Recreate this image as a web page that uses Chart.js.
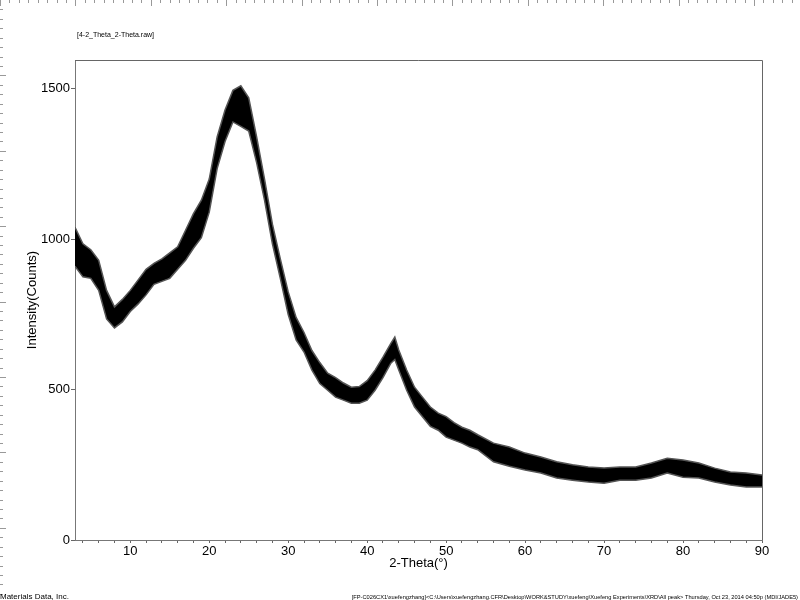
<!DOCTYPE html>
<html>
<head>
<meta charset="utf-8">
<title>4-2 Theta 2-Theta</title>
<script src="https://cdn.jsdelivr.net/npm/chart.js@4.4.0/dist/chart.umd.min.js"></script>
<style>
  html, body { margin: 0; padding: 0; background: #fff; }
  #wrap { width: 800px; height: 600px; }
</style>
</head>
<body>
<div id="wrap"><canvas id="xrd" width="800" height="600"></canvas></div>
<script>
const theta = [3, 4, 5, 6, 7, 8, 9, 10, 11, 12, 13, 14, 15, 16, 17, 18, 19, 20,
  21, 22, 23, 24, 25, 26, 27, 28, 29, 30, 31, 32, 33, 34, 35, 36, 37, 38, 39, 40,
  41, 42, 43, 43.5, 44, 45, 46, 47, 48, 49, 50, 51, 52, 53, 54, 56, 58, 60, 62,
  64, 66, 68, 70, 72, 74, 76, 78, 80, 82, 84, 86, 88, 90];
// borde inferior de la traza (ruido)
const intensityLow = [910, 875, 870, 830, 735, 705, 725, 760, 785, 815, 850, 860, 870, 900, 930, 970, 1005, 1090,
  1235, 1325, 1390, 1375, 1360, 1255, 1130, 985, 870, 750, 665, 625, 565, 520, 498, 475, 465, 455, 455, 465,
  498, 540, 588, 600, 565, 498, 442, 410, 378, 365, 342, 332, 322, 309, 300, 260, 245, 233, 223,
  206, 199, 193, 189, 199, 199, 206, 223, 209, 206, 193, 183, 176, 176];
// borde superior de la traza
const intensityHigh = [1040, 985, 965, 930, 830, 775, 800, 830, 865, 900, 920, 935, 955, 975, 1030, 1085, 1130, 1200,
  1340, 1430, 1495, 1510, 1470, 1340, 1200, 1050, 935, 825, 740, 690, 630, 590, 555, 540, 522, 508, 510, 530,
  565, 608, 654, 675, 632, 565, 508, 475, 442, 422, 410, 390, 375, 365, 350, 322, 309, 289, 276,
  260, 250, 243, 239, 243, 243, 256, 272, 266, 256, 239, 226, 223, 216];

const xTickLabels = [10, 20, 30, 40, 50, 60, 70, 80, 90];
const yTickLabels = [0, 500, 1000, 1500];

const headerText = '[4-2_Theta_2-Theta.raw]';
const footerLeft = 'Materials Data, Inc.';
const footerRight = '[FP-C026CX1\\xuefengzhang]<C:\\Users\\xuefengzhang.CFR\\Desktop\\WORK&STUDY\\xuefeng\\Xuefeng Experiments\\XRD\\All peak> Thursday, Oct 23, 2014 04:50p (MDI/JADE5)';

const lowPts = theta.map((t, i) => ({ x: t, y: intensityLow[i] }));
const highPts = theta.map((t, i) => ({ x: t, y: intensityHigh[i] }));

// marco, regla de la ventana y textos
const decoraciones = {
  id: 'decoraciones',
  afterDraw(chart) {
    const ctx = chart.ctx;
    const a = chart.chartArea;
    ctx.save();
    ctx.strokeStyle = '#666';
    ctx.lineWidth = 1;
    ctx.beginPath();
    ctx.moveTo(a.left, a.top + 0.5);
    ctx.lineTo(a.right + 0.5, a.top + 0.5);
    ctx.lineTo(a.right + 0.5, a.bottom);
    ctx.stroke();

    // regla
    ctx.strokeStyle = '#999';
    const paso = 75.4 / 8;
    for (let i = 0; i * paso < 800; i++) {
      const p = Math.round(i * paso) + 0.5;
      const len = i % 8 === 0 ? 6 : 3;
      ctx.beginPath();
      ctx.moveTo(p, 0);
      ctx.lineTo(p, len);
      ctx.stroke();
    }
    for (let i = 1; i * paso < 600; i++) {
      const p = Math.round(i * paso) + 0.5;
      const len = i % 8 === 0 ? 6 : 3;
      ctx.beginPath();
      ctx.moveTo(0, p);
      ctx.lineTo(len, p);
      ctx.stroke();
    }

    ctx.fillStyle = '#000';
    ctx.textBaseline = 'middle';
    ctx.textAlign = 'left';
    ctx.font = '7px "Liberation Sans", Arial, sans-serif';
    ctx.fillText(headerText, 77, 35);

    ctx.font = '8px "Liberation Sans", Arial, sans-serif';
    ctx.textBaseline = 'alphabetic';
    ctx.fillText(footerLeft, 0, 599);

    let size = 7;
    ctx.font = size + 'px "Liberation Sans", Arial, sans-serif';
    while (ctx.measureText(footerRight).width > 448 && size > 5) {
      size -= 0.1;
      ctx.font = size + 'px "Liberation Sans", Arial, sans-serif';
    }
    ctx.textAlign = 'right';
    ctx.fillText(footerRight, 798, 599);
    ctx.restore();
  }
};

const tickFont = { family: '"Liberation Sans", Arial, sans-serif', size: 13 };

new Chart(document.getElementById('xrd'), {
  type: 'line',
  data: {
    datasets: [
      {
        label: 'low',
        data: lowPts,
        borderColor: '#555',
        borderWidth: 1.5,
        pointRadius: 0,
        fill: false
      },
      {
        label: 'high',
        data: highPts,
        borderColor: '#555',
        borderWidth: 1.5,
        pointRadius: 0,
        backgroundColor: '#000',
        fill: '-1'
      }
    ]
  },
  options: {
    responsive: false,
    animation: false,
    layout: { padding: { left: 0, top: 60, right: 38, bottom: 20 } },
    plugins: {
      legend: { display: false },
      tooltip: { enabled: false },
      title: { display: false }
    },
    scales: {
      x: {
        type: 'linear',
        min: 3,
        max: 90,
        afterBuildTicks(scale) {
          const t = [];
          for (let v = 4; v <= 90; v += 2) t.push({ value: v });
          scale.ticks = t;
        },
        afterFit(scale) { scale.height = 40; },
        grid: { drawOnChartArea: false, drawTicks: true, tickLength: 3, color: '#666' },
        border: { display: true, color: '#777' },
        ticks: {
          color: '#000',
          font: tickFont,
          padding: 1,
          maxRotation: 0,
          autoSkip: false,
          callback: v => xTickLabels.includes(v) ? String(v) : ''
        },
        title: {
          display: true,
          text: '2-Theta(°)',
          color: '#000',
          font: tickFont,
          padding: { top: 0, bottom: 9 }
        }
      },
      y: {
        type: 'linear',
        min: 0,
        max: 1596,
        afterBuildTicks(scale) {
          scale.ticks = yTickLabels.map(v => ({ value: v }));
        },
        afterFit(scale) { scale.width = 75; },
        grid: { drawOnChartArea: false, drawTicks: true, tickLength: 4, color: '#666' },
        border: { display: true, color: '#777' },
        ticks: {
          color: '#000',
          font: tickFont,
          padding: 1,
          autoSkip: false,
          callback: v => String(v)
        },
        title: {
          display: true,
          text: 'Intensity(Counts)',
          color: '#000',
          font: tickFont,
          padding: { top: 25, bottom: 0 }
        }
      }
    }
  },
  plugins: [decoraciones]
});
</script>
</body>
</html>
